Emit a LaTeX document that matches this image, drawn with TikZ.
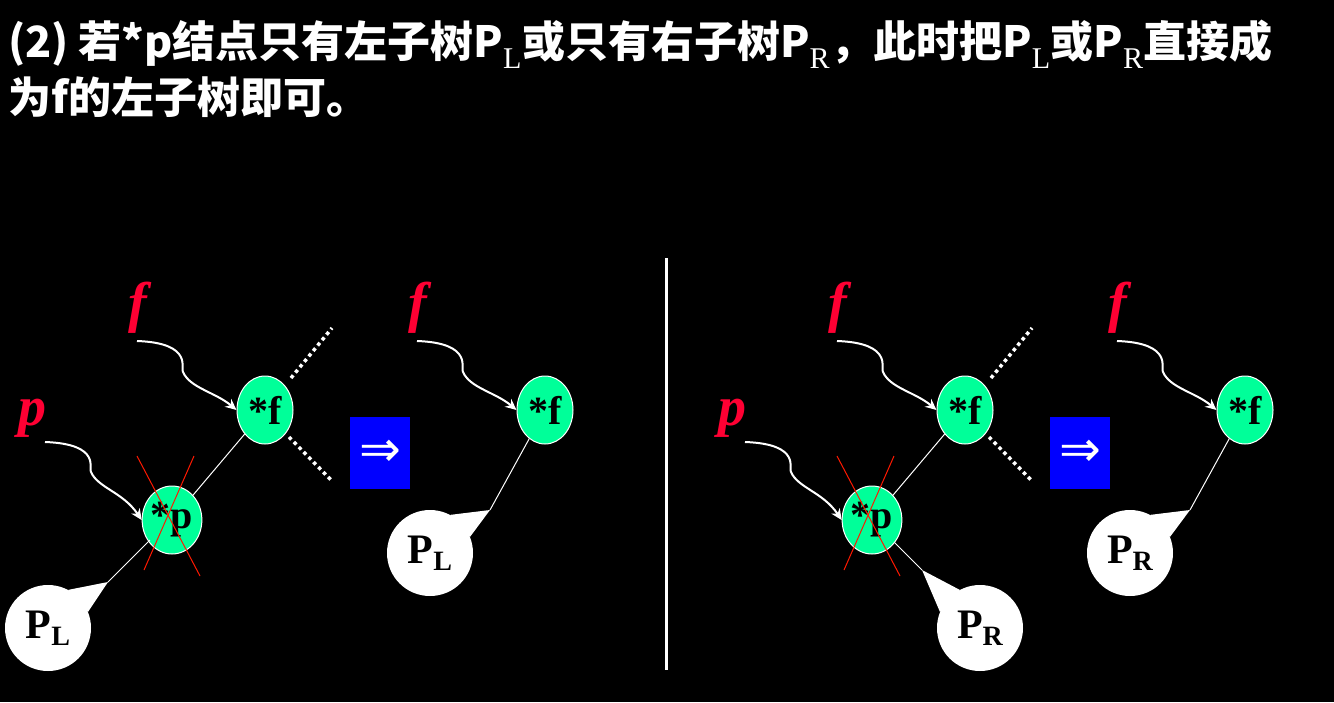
\documentclass[tikz,border=0pt]{standalone}
\usepackage{fontspec}
\setmainfont{Liberation Serif}
\newfontfamily\cjk{Noto Sans CJK SC}
\newfontfamily\dvs{DejaVu Sans}
\definecolor{ngreen}{HTML}{00FF99}
\definecolor{nred}{HTML}{FF0033}
\usetikzlibrary{shapes.geometric,arrows.meta}
\begin{document}
\begin{tikzpicture}[x=1pt,y=-1pt,
  tnode/.style={ellipse,draw=white,line width=1pt,fill=ngreen,minimum width=56pt,minimum height=68pt,inner sep=0pt,font=\fontsize{40}{40}\selectfont\bfseries},
  lab/.style={text=nred,font=\fontsize{56}{56}\selectfont\bfseries\itshape,inner sep=0pt},
  ptr/.style={white,line width=2pt,-{Stealth[length=11pt,width=10pt]}},
  edge/.style={white,line width=1pt},
  dot/.style={white,line width=3.5pt,dash pattern=on 3.5pt off 3.5pt},
  cross/.style={red!80!orange,line width=1pt},
  bubble/.style={circle,fill=white,minimum size=86pt,inner sep=0pt,font=\fontsize{42}{42}\selectfont\bfseries},
  arrbox/.style={fill=blue,minimum width=60pt,minimum height=72pt,inner sep=0pt,text=white,font=\dvs\fontsize{50}{50}\selectfont}]
\fill[black] (0,0) rectangle (1334,702);
\node[anchor=north west,text=white,align=left,inner sep=0pt,font=\cjk\bfseries\fontsize{43}{56}\selectfont] (title) at (8,20)
 {(2) 若*p结点只有左子树P$_\mathrm{L}$或只有右子树P$_\mathrm{R}$，此时把P$_\mathrm{L}$或P$_\mathrm{R}$直接成\\为f的左子树即可。};
\draw[white,line width=3pt] (666,258) coordinate (d1) -- (666,670) coordinate (d2);
\foreach \ox/\sub in {0/L,700/R}{
  \begin{scope}[shift={(\ox,0)}]
  \node[tnode] (F) at (265,410) {*f};
  \node[tnode] (P) at (172,520) {*p};
  \node[lab] (fl) at (138,308) {f};
  \node[lab] (pl) at (32,418) {p};
  \coordinate (fs) at (137,341); \coordinate (ps) at (45,442);
  \draw[ptr] (fs) .. controls (195,343) and (180,370) .. (183,372) .. controls (190,388) and (215,392) .. (F.west);
  \draw[ptr] (ps) .. controls (103,444) and (88,470) .. (91,472) .. controls (98,488) and (123,492) .. (P.west);
  \draw[edge] (F) -- (P);
  \coordinate (d1a) at (291,378); \coordinate (d1b) at (332,328);
  \coordinate (d2a) at (289,437); \coordinate (d2b) at (332,481);
  \draw[dot] (d1a) -- (d1b); \draw[dot] (d2a) -- (d2b);
  \coordinate (x1) at (137,456); \coordinate (x2) at (200,576);
  \coordinate (x3) at (194,456); \coordinate (x4) at (144,570);
  \draw[cross] (x1) -- (x2); \draw[cross] (x3) -- (x4);
  \node[arrbox] (A) at (380,453) {⇒};
  \node[tnode] (F2) at (545,410) {*f};
  \node[lab] (fl2) at (418,308) {f};
  \coordinate (fs2) at (417,341);
  \draw[ptr] (fs2) .. controls (475,343) and (460,370) .. (463,372) .. controls (470,388) and (495,392) .. (F2.west);
  \coordinate (t2) at (490,510);
  \node[bubble] (B2) at (430,553) {P\raisebox{-0.35ex}{\fontsize{28}{28}\selectfont\sub}};
  \fill[white] (t2) -- (B2.62) -- (B2.22) -- cycle;
  \draw[edge] (F2) -- (t2);
  \end{scope}}
\coordinate (t1) at (108,582);
\node[bubble] (B1) at (48,628) {P\raisebox{-0.35ex}{\fontsize{28}{28}\selectfont L}};
\fill[white] (t1) -- (B1.62) -- (B1.22) -- cycle;
\coordinate (pbl) at (150,540);
\draw[edge] (pbl) -- (t1);
\coordinate (t3) at (922,570);
\node[bubble] (B3) at (980,628) {P\raisebox{-0.35ex}{\fontsize{28}{28}\selectfont R}};
\fill[white] (t3) -- (B3.118) -- (B3.158) -- cycle;
\draw[edge] (P) -- (t3);
\end{tikzpicture}
\end{document}
